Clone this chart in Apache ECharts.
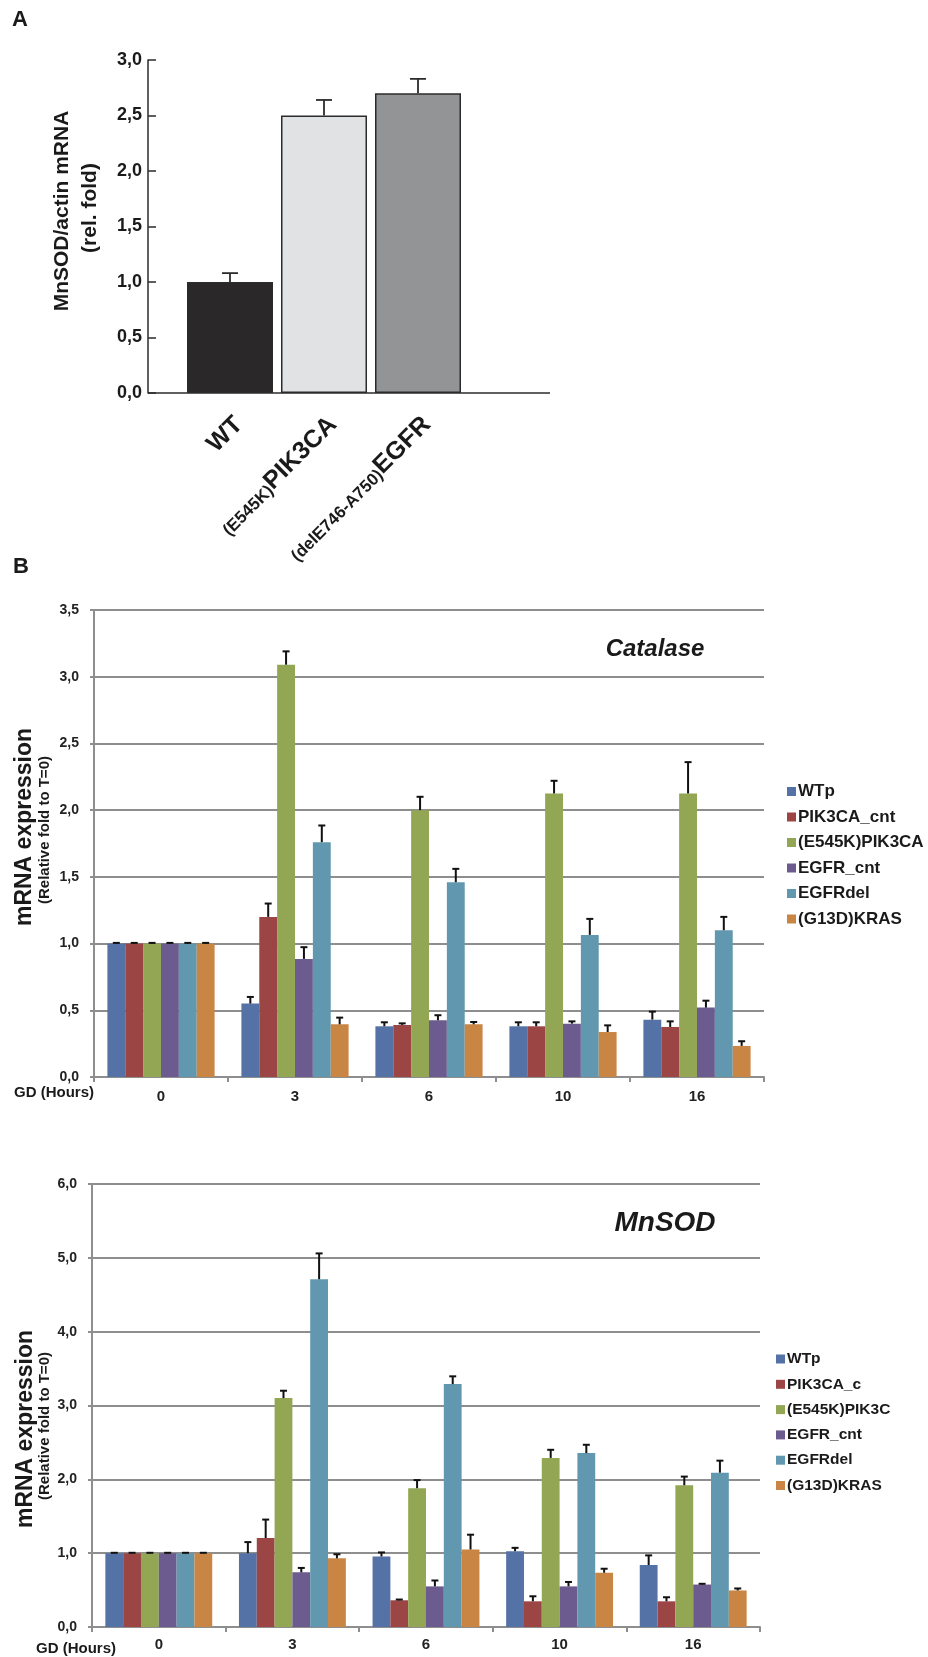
<!DOCTYPE html>
<html>
<head>
<meta charset="utf-8">
<script src="https://cdn.jsdelivr.net/npm/echarts@6/dist/echarts.min.js"></script>
<style>
  html, body { margin: 0; padding: 0; background: #fff; }
  #chart { width: 928px; height: 1657px; }
</style>
</head>
<body>
<div id="chart"></div>
<script>
// ---- panel A : MnSOD/actin mRNA ----
var aCats = ['WT', '(E545K)PIK3CA', '(delE746-A750)EGFR'];
var aValues = [1.0, 2.5, 2.7];
var aErrors = [0.08, 0.14, 0.13];
var aColors = ['#2a2829', '#e1e2e4', '#939496'];

// ---- panel B : time points ----
var hours = ['0', '3', '6', '10', '16'];
var catNames = ['WTp', 'PIK3CA_cnt', '(E545K)PIK3CA', 'EGFR_cnt', 'EGFRdel', '(G13D)KRAS'];
var sodNames = ['WTp', 'PIK3CA_c', '(E545K)PIK3C', 'EGFR_cnt', 'EGFRdel', '(G13D)KRAS'];
var colors = ['#5472a6', '#9b4645', '#92a653', '#6c5b8f', '#6298af', '#c98543'];

// Catalase
var catWTp = [1.0, 0.55, 0.38, 0.38, 0.43];
var catPIK = [1.0, 1.20, 0.39, 0.38, 0.375];
var catE545K = [1.0, 3.09, 2.0, 2.125, 2.125];
var catEGFR = [1.0, 0.885, 0.425, 0.40, 0.52];
var catEGFRdel = [1.0, 1.76, 1.46, 1.065, 1.10];
var catKRAS = [1.0, 0.395, 0.395, 0.337, 0.233];

var catWTpErr = [0.005, 0.05, 0.03, 0.03, 0.06];
var catPIKErr = [0.005, 0.10, 0.012, 0.03, 0.042];
var catE545KErr = [0.005, 0.10, 0.10, 0.095, 0.235];
var catEGFRErr = [0.005, 0.088, 0.038, 0.017, 0.052];
var catEGFRdelErr = [0.005, 0.125, 0.10, 0.12, 0.10];
var catKRASErr = [0.005, 0.05, 0.017, 0.05, 0.035];

// MnSOD
var sodWTp = [1.0, 1.0, 0.955, 1.027, 0.84];
var sodPIK = [1.0, 1.205, 0.362, 0.348, 0.348];
var sodE545K = [1.0, 3.10, 1.88, 2.29, 1.92];
var sodEGFR = [1.0, 0.74, 0.55, 0.55, 0.575];
var sodEGFRdel = [1.0, 4.71, 3.29, 2.355, 2.09];
var sodKRAS = [1.0, 0.93, 1.05, 0.735, 0.495];

var sodWTpErr = [0.005, 0.15, 0.055, 0.045, 0.13];
var sodPIKErr = [0.005, 0.25, 0.01, 0.068, 0.055];
var sodE545KErr = [0.005, 0.10, 0.11, 0.11, 0.117];
var sodEGFRErr = [0.005, 0.06, 0.08, 0.06, 0.01];
var sodEGFRdelErr = [0.005, 0.35, 0.105, 0.113, 0.163];
var sodKRASErr = [0.005, 0.055, 0.2, 0.054, 0.027];

var catValues = [catWTp, catPIK, catE545K, catEGFR, catEGFRdel, catKRAS];
var catErrors = [catWTpErr, catPIKErr, catE545KErr, catEGFRErr, catEGFRdelErr, catKRASErr];
var sodValues = [sodWTp, sodPIK, sodE545K, sodEGFR, sodEGFRdel, sodKRAS];
var sodErrors = [sodWTpErr, sodPIKErr, sodE545KErr, sodEGFRErr, sodEGFRdelErr, sodKRASErr];

var FONT = 'Liberation Sans, Arial, sans-serif';
var GRID_GRAY = '#8e8e8e';

function comma(v) {
  return v.toFixed(1).replace('.', ',');
}

// error bar drawn above the bar; slot = position inside the group
function errorBar(slot, nSlots, capW, lw, color) {
  return function (params, api) {
    var ci = api.value(0);
    var v = api.value(1);
    var base = api.coord([ci, v]);
    var top = api.coord([ci, v + api.value(2)]);
    var band = api.size([1, 0])[0];
    var x = base[0];
    if (nSlots > 1) {
      var bw = band * 0.8 / nSlots;
      x = base[0] + (slot - (nSlots - 1) / 2) * bw;
    }
    var st = { stroke: color, lineWidth: lw };
    return {
      type: 'group',
      children: [
        { type: 'line', shape: { x1: x, y1: base[1], x2: x, y2: top[1] }, style: st },
        { type: 'line', shape: { x1: x - capW / 2, y1: top[1], x2: x + capW / 2, y2: top[1] }, style: st }
      ]
    };
  };
}

var series = [];

// panel A bars
series.push({
  type: 'bar', xAxisIndex: 0, yAxisIndex: 0, barWidth: 86,
  data: aValues.map(function (v, i) {
    return { value: v, itemStyle: { color: aColors[i] } };
  }),
  itemStyle: { borderColor: '#2b2b2b', borderWidth: 1.5 },
  silent: true
});
series.push({
  type: 'custom', xAxisIndex: 0, yAxisIndex: 0, z: 5,
  renderItem: errorBar(0, 1, 16, 1.8, '#2b2b2b'),
  encode: { x: 0, y: 1 },
  data: aValues.map(function (v, i) { return [i, v, aErrors[i]]; })
});

function addGroup(names, values, errors, axisIdx) {
  names.forEach(function (name, s) {
    series.push({
      name: name, type: 'bar', xAxisIndex: axisIdx, yAxisIndex: axisIdx,
      barGap: '0%', barCategoryGap: '20%',
      itemStyle: { color: colors[s] },
      data: values[s], silent: true
    });
  });
  names.forEach(function (name, s) {
    series.push({
      type: 'custom', xAxisIndex: axisIdx, yAxisIndex: axisIdx, z: 5,
      renderItem: errorBar(s, names.length, 7, 2, '#111'),
      encode: { x: 0, y: 1 },
      data: values[s].map(function (v, i) { return [i, v, errors[s][i]]; })
    });
  });
}
addGroup(catNames, catValues, catErrors, 1);
addGroup(sodNames, sodValues, sodErrors, 2);

function bYAxis(grid, max, step) {
  return {
    type: 'value', gridIndex: grid, min: 0, max: max, interval: step,
    axisLine: { show: true, lineStyle: { color: GRID_GRAY, width: 2 } },
    axisTick: { show: true, length: 4, lineStyle: { color: GRID_GRAY, width: 2 } },
    axisLabel: { formatter: comma, fontFamily: FONT, fontWeight: 'bold', fontSize: 14, color: '#222', margin: 15 },
    splitLine: { show: true, lineStyle: { color: GRID_GRAY, width: 2 } }
  };
}
function bXAxis(grid, margin) {
  return {
    type: 'category', gridIndex: grid, data: hours,
    axisLine: { show: true, lineStyle: { color: GRID_GRAY, width: 2 } },
    axisTick: { show: true, length: 5, lineStyle: { color: GRID_GRAY, width: 2 } },
    axisLabel: { fontFamily: FONT, fontWeight: 'bold', fontSize: 15, color: '#222', margin: margin }
  };
}
function legendFor(names, left, top, size, gap) {
  return {
    data: names, orient: 'vertical', left: left, top: top,
    icon: 'rect', itemWidth: 9, itemHeight: 9, itemGap: gap,
    selectedMode: false,
    textStyle: { fontFamily: FONT, fontWeight: 'bold', fontSize: size, lineHeight: size, color: '#1a1a1a', padding: [0, 0, 0, -3] }
  };
}
function txt(x, y, text, size, opts) {
  opts = opts || {};
  return {
    type: 'text', x: x, y: y, rotation: opts.rot || 0, silent: true,
    style: {
      text: text, fill: '#1a1a1a', align: 'center', verticalAlign: 'middle',
      font: (opts.italic ? 'italic ' : '') + 'bold ' + size + 'px ' + FONT
    }
  };
}

var option = {
  backgroundColor: '#fff',
  animation: false,
  grid: [
    { left: 183, top: 60, width: 282, height: 333 },
    { left: 94, top: 610, width: 670, height: 467 },
    { left: 92, top: 1184, width: 668, height: 443 }
  ],
  xAxis: [
    {
      type: 'category', gridIndex: 0, data: aCats,
      axisLine: { show: false }, axisTick: { show: false },
      axisLabel: {
        rotate: 45, margin: 19, interval: 0, verticalAlign: 'top',
        formatter: function (v) {
          var m = v.match(/^(\(.*\))(.*)$/);
          return m ? '{s|' + m[1] + '}{b|' + m[2] + '}' : '{b|' + v + '}';
        },
        rich: {
          s: { fontFamily: FONT, fontWeight: 'bold', fontSize: 17, color: '#1a1a1a', verticalAlign: 'bottom' },
          b: { fontFamily: FONT, fontWeight: 'bold', fontSize: 25, color: '#1a1a1a', verticalAlign: 'bottom' }
        }
      }
    },
    bXAxis(1, 12),
    bXAxis(2, 10)
  ],
  yAxis: [
    {
      type: 'value', gridIndex: 0, min: 0, max: 3, interval: 0.5, offset: 35,
      axisLine: { show: true, lineStyle: { color: '#2b2b2b', width: 1.5 } },
      axisTick: { show: true, inside: true, length: 8, lineStyle: { color: '#2b2b2b', width: 1.5 } },
      axisLabel: { formatter: comma, fontFamily: FONT, fontWeight: 'bold', fontSize: 18, color: '#1a1a1a', margin: 6 },
      splitLine: { show: false }
    },
    bYAxis(1, 3.5, 0.5),
    bYAxis(2, 6, 1)
  ],
  legend: [
    legendFor(catNames, 782, 778, 17, 8.5),
    legendFor(sodNames, 771, 1346, 15.5, 9.3)
  ],
  graphic: [
    // panel A base line running from the y axis to past the last bar
    { type: 'line', silent: true, shape: { x1: 148, y1: 393, x2: 550, y2: 393 }, style: { stroke: '#2b2b2b', lineWidth: 1.5 } },
    txt(20, 20, 'A', 22),
    txt(21, 567, 'B', 22),
    txt(62, 211, 'MnSOD/actin mRNA', 21, { rot: Math.PI / 2 }),
    txt(90, 208, '(rel. fold)', 21, { rot: Math.PI / 2 }),
    txt(25, 827, 'mRNA expression', 23, { rot: Math.PI / 2 }),
    txt(45, 830, '(Relative fold to T=0)', 15, { rot: Math.PI / 2 }),
    txt(26, 1429, 'mRNA expression', 23, { rot: Math.PI / 2 }),
    txt(45, 1426, '(Relative fold to T=0)', 15, { rot: Math.PI / 2 }),
    txt(54, 1093, 'GD (Hours)', 15),
    txt(76, 1649, 'GD (Hours)', 15),
    txt(655, 649, 'Catalase', 24, { italic: true }),
    txt(665, 1223, 'MnSOD', 28, { italic: true })
  ],
  series: series
};

var chart = echarts.init(document.getElementById('chart'));
chart.setOption(option);
</script>
</body>
</html>
